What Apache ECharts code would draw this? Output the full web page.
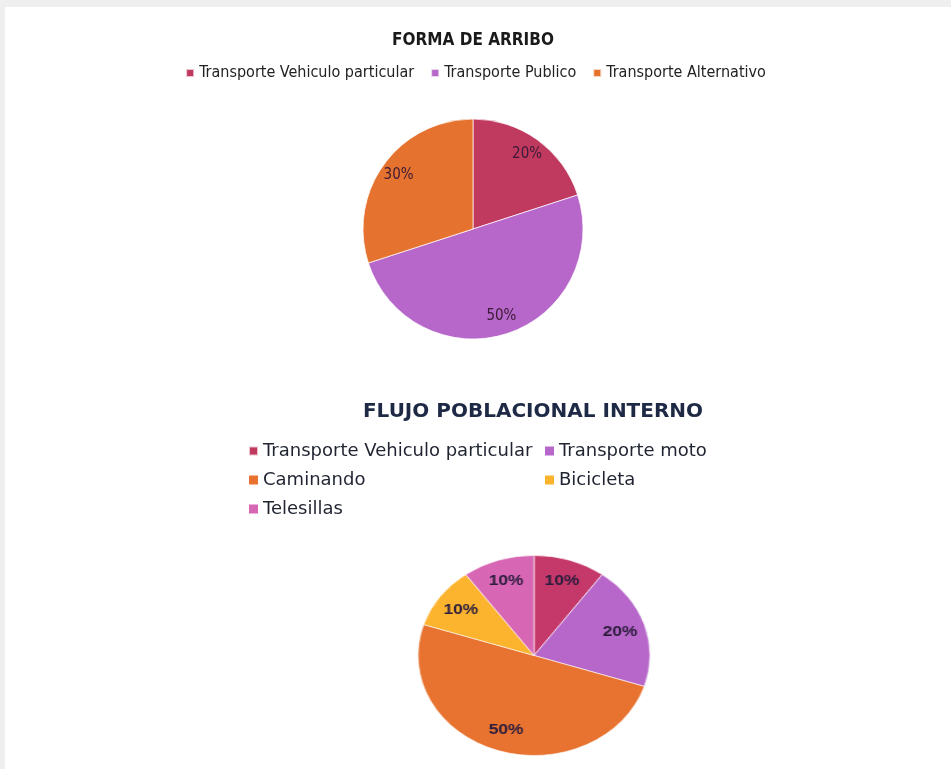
<!DOCTYPE html>
<html>
<head>
<meta charset="utf-8">
<script src="https://cdn.jsdelivr.net/npm/echarts@6/dist/echarts.min.js"></script>
<style>
  html, body { margin: 0; padding: 0; background: #efefef; }
  #sheet { position: absolute; left: 5px; top: 7px; width: 946px; height: 762px; background: #ffffff; }
  #page { position: absolute; left: 0; top: 0; width: 951px; height: 769px; }
  /* the internal-flow pie is drawn as an ellipse, wider than tall */
  #flujo { position: absolute; left: 414px; top: 545px; width: 240px; height: 220px;
           transform: scaleX(1.16); transform-origin: 120px 110px; }
</style>
</head>
<body>
<div id="sheet"></div>
<div id="page"></div>
<div id="flujo"></div>
<script>
// Forma de arribo
const arriboTitle = 'FORMA DE ARRIBO';
const arriboCategories = ['Transporte Vehiculo particular', 'Transporte Publico', 'Transporte Alternativo'];
const arriboValues = [20, 50, 30];
const arriboColors = ['#c0395f', '#b667c9', '#e6722f'];

// Flujo poblacional interno
const flujoTitle = 'FLUJO POBLACIONAL INTERNO';
const flujoCategories = ['Transporte Vehiculo particular', 'Transporte moto', 'Caminando', 'Bicicleta', 'Telesillas'];
const flujoValues = [10, 20, 50, 10, 10];
const flujoColors = ['#c5386a', '#b767ca', '#e8722f', '#fcb42e', '#d767b4'];

const narrow = '"Liberation Sans Narrow", "DejaVu Sans Condensed", "Arial Narrow", sans-serif';
const wide = '"DejaVu Sans", Verdana, sans-serif';

function pieData(names, values, colors) {
  return names.map((n, i) => ({ name: n, value: values[i], itemStyle: { color: colors[i] } }));
}

const page = echarts.init(document.getElementById('page'), null, { renderer: 'canvas' });
page.setOption({
  animation: false,
  backgroundColor: 'transparent',
  title: [
    { text: arriboTitle, left: 468, top: 27, textAlign: 'center',
      textStyle: { fontFamily: narrow, fontSize: 17, fontWeight: 'bold', color: '#1a1a1a' } },
    { text: flujoTitle, left: 528, top: 397, textAlign: 'center',
      textStyle: { fontFamily: wide, fontSize: 20, fontWeight: 'bold', color: '#1e2a45' } }
  ],
  legend: [
    { data: arriboCategories, left: 'center', top: 60, icon: 'rect', itemWidth: 8, itemHeight: 8, itemGap: 16,
      selectedMode: false,
      textStyle: { fontFamily: narrow, fontSize: 16, color: '#222222' } },
    { data: [flujoCategories[0], flujoCategories[2], flujoCategories[4]], orient: 'vertical', left: 243, top: 436,
      icon: 'rect', itemWidth: 9, itemHeight: 9, itemGap: 9, selectedMode: false,
      textStyle: { fontFamily: wide, fontSize: 18, lineHeight: 20, color: '#1f2430' } },
    { data: [flujoCategories[1], flujoCategories[3]], orient: 'vertical', left: 540, top: 436,
      icon: 'rect', itemWidth: 9, itemHeight: 9, itemGap: 9, selectedMode: false,
      textStyle: { fontFamily: wide, fontSize: 18, lineHeight: 20, color: '#1f2430' } }
  ],
  series: [
    { type: 'pie', center: [473, 229], radius: [0, 110], startAngle: 90, clockwise: true,
      avoidLabelOverlap: false, silent: true,
      itemStyle: { borderColor: 'rgba(255,255,255,0.7)', borderWidth: 1 },
      label: { show: false }, labelLine: { show: false },
      data: pieData(arriboCategories, arriboValues, arriboColors) },
    // label ring: places the percentages near the outer edge
    { type: 'pie', center: [473, 229], radius: [68, 110], startAngle: 90, clockwise: true,
      avoidLabelOverlap: false, silent: true,
      itemStyle: { color: 'rgba(0,0,0,0)', borderWidth: 0 },
      label: { show: true, position: 'inside', formatter: '{c}%', fontFamily: narrow, fontSize: 15, color: '#3b1a36' },
      labelLine: { show: false },
      data: arriboCategories.map((n, i) => ({ name: n, value: arriboValues[i] })) },
    // carries the legend entries of the internal-flow chart
    { type: 'pie', center: [534, 655], radius: [0, 0], silent: true,
      label: { show: false }, labelLine: { show: false },
      data: pieData(flujoCategories, flujoValues, flujoColors) }
  ]
});

const flujo = echarts.init(document.getElementById('flujo'), null, { renderer: 'canvas' });
flujo.setOption({
  animation: false,
  backgroundColor: 'transparent',
  series: [
    { type: 'pie', center: [120, 110.5], radius: [0, 100], startAngle: 90, clockwise: true,
      avoidLabelOverlap: false, silent: true,
      itemStyle: { borderColor: 'rgba(255,255,255,0.6)', borderWidth: 1 },
      label: { show: false }, labelLine: { show: false },
      data: pieData(flujoCategories, flujoValues, flujoColors) },
    { type: 'pie', center: [120, 110.5], radius: [50, 100], startAngle: 90, clockwise: true,
      avoidLabelOverlap: false, silent: true,
      itemStyle: { color: 'rgba(0,0,0,0)', borderWidth: 0 },
      label: { show: true, position: 'inside', formatter: '{c}%',
               fontFamily: '"Liberation Sans", Arial, sans-serif', fontSize: 15, fontWeight: 'bold', color: '#2b1d3d' },
      labelLine: { show: false },
      data: flujoCategories.map((n, i) => ({ name: n, value: flujoValues[i] })) }
  ]
});
</script>
</body>
</html>
